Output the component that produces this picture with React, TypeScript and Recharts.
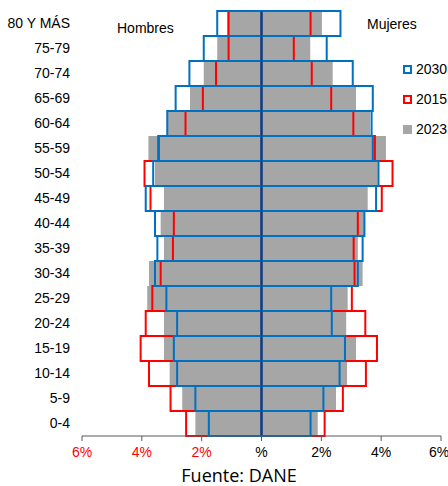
import React from 'react';
import { BarChart, Bar, XAxis, YAxis, ReferenceLine } from 'recharts';

const ageGroups = ['80 Y MÁS', '75-79', '70-74', '65-69', '60-64', '55-59', '50-54', '45-49', '40-44', '35-39', '30-34', '25-29', '20-24', '15-19', '10-14', '5-9', '0-4'];

const men2023 = [1.15, 1.48, 1.93, 2.39, 3.13, 3.78, 3.56, 3.26, 3.37, 3.26, 3.76, 3.82, 3.26, 3.26, 3.07, 2.65, 2.21];
const men2015 = [1.1, 1.1, 1.52, 1.96, 2.54, 3.45, 3.91, 3.71, 2.93, 2.96, 3.37, 3.65, 3.87, 4.04, 3.76, 3.04, 2.52];
const men2030 = [1.48, 1.93, 2.41, 2.87, 3.15, 3.43, 3.62, 3.87, 3.56, 3.48, 3.56, 3.18, 2.82, 2.93, 2.82, 2.21, 1.76];

const women2023 = [2.02, 1.63, 2.38, 3.16, 3.63, 4.16, 3.88, 3.55, 3.45, 3.22, 3.38, 2.88, 2.83, 3.16, 2.86, 2.49, 1.88];
const women2015 = [1.64, 1.08, 1.68, 2.33, 3.07, 3.79, 4.38, 4.02, 3.22, 3.08, 3.11, 3.02, 3.47, 3.86, 3.49, 2.72, 2.11];
const women2030 = [2.64, 2.18, 3.05, 3.72, 3.68, 3.72, 3.91, 3.83, 3.44, 3.38, 3.22, 2.33, 2.35, 2.79, 2.61, 2.07, 1.64];

const xTicks = [-6, -4, -2, 0, 2, 4, 6];

const data = ageGroups.map((age, i) => ({
  age,
  m2023: -men2023[i],
  w2023: women2023[i],
  m2015: -men2015[i],
  w2015: women2015[i],
  m2030: -men2030[i],
  w2030: women2030[i],
}));

const GRAY = '#A6A6A6';
const RED = '#FF0000';
const BLUE = '#0070C0';

const XTick = (props: any) => {
  const { x, y, payload } = props;
  const v = payload.value;
  const label = v === 0 ? '%' : `${Math.abs(v)}%`;
  // keep the last label inside the svg edge
  const tx = v === 6 ? x - 2 : x;
  return (
    <text x={tx} y={y} dy="0.71em" textAnchor="middle" fontSize={14} fill={v < 0 ? RED : '#000'}>
      {label}
    </text>
  );
};

const legendItems = [
  { label: '2030', color: BLUE, filled: false },
  { label: '2015', color: RED, filled: false },
  { label: '2023', color: GRAY, filled: true },
];

export default function App() {
  return (
    <div style={{ position: 'absolute', left: 0, top: 0, width: 448, height: 486, fontFamily: '"Liberation Sans", Arial, sans-serif', background: '#fff' }}>
      <BarChart
        width={448}
        height={466}
        data={data}
        layout="vertical"
        margin={{ top: 11, right: 7, left: 0, bottom: 0 }}
        barCategoryGap={0}
        barGap="-100%"
      >
        <XAxis
          type="number"
          domain={[-6, 6]}
          ticks={xTicks}
          allowDataOverflow
          tick={<XTick />}
          tickSize={5}
          tickMargin={6}
          height={30}
          stroke="#595959"
        />
        <YAxis
          type="category"
          dataKey="age"
          width={82}
          axisLine={false}
          tickLine={false}
          tickMargin={6}
          tick={{ fontSize: 14, fill: '#000' }}
          interval={0}
        />
        <Bar dataKey="m2023" fill={GRAY} isAnimationActive={false} />
        <Bar dataKey="w2023" fill={GRAY} isAnimationActive={false} />
        <Bar dataKey="m2015" fill="none" stroke={RED} strokeWidth={2} isAnimationActive={false} />
        <Bar dataKey="w2015" fill="none" stroke={RED} strokeWidth={2} isAnimationActive={false} />
        <Bar dataKey="m2030" fill="none" stroke={BLUE} strokeWidth={2} isAnimationActive={false} />
        <Bar dataKey="w2030" fill="none" stroke={BLUE} strokeWidth={2} isAnimationActive={false} />
        <ReferenceLine x={0} stroke="#1F3B5C" strokeWidth={1.5} />
      </BarChart>
      <div style={{ position: 'absolute', left: 117, top: 20, fontSize: 14, color: '#000' }}>Hombres</div>
      <div style={{ position: 'absolute', left: 367, top: 16, fontSize: 14, color: '#000' }}>Mujeres</div>
      {legendItems.map((item, i) => (
        <div key={item.label} style={{ position: 'absolute', left: 403, top: 60 + i * 30, height: 18, display: 'flex', alignItems: 'center', fontSize: 14, color: '#000' }}>
          <span
            style={{
              display: 'inline-block',
              width: item.filled ? 9 : 5,
              height: item.filled ? 9 : 5,
              background: item.filled ? item.color : '#fff',
              border: item.filled ? 'none' : `2px solid ${item.color}`,
              marginRight: 4,
            }}
          />
          {item.label}
        </div>
      ))}
      <div style={{ position: 'absolute', left: 0, width: 478, top: 463, textAlign: 'center', fontSize: 18, fontFamily: '"Open Sans", "Noto Sans", sans-serif', color: '#000' }}>
        Fuente: DANE
      </div>
    </div>
  );
}
